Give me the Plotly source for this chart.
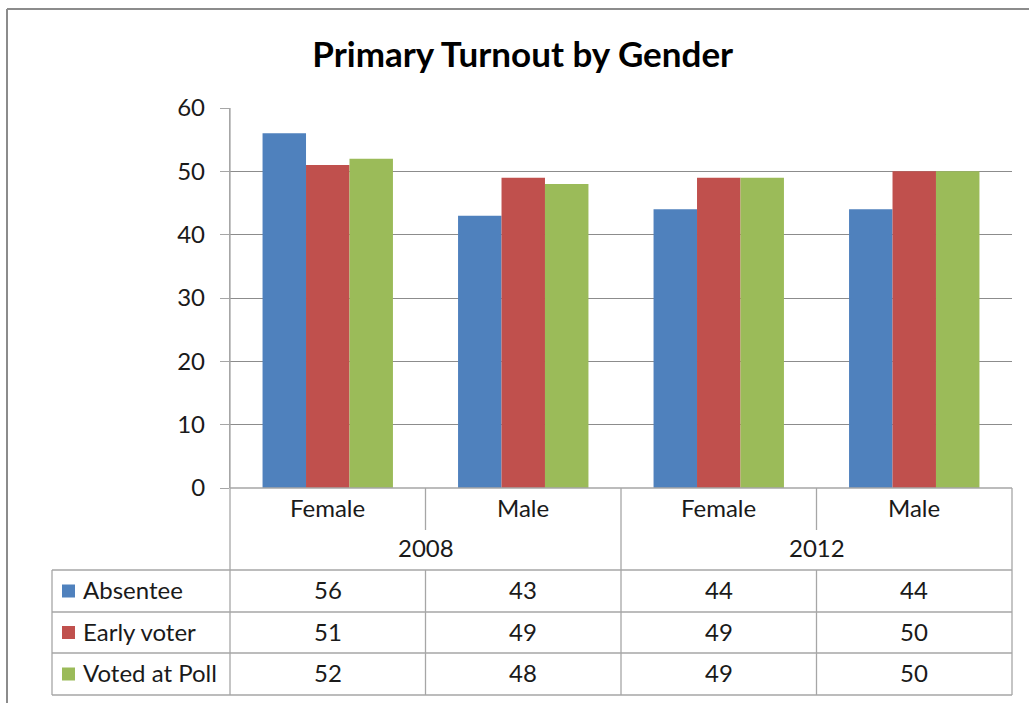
import plotly.graph_objects as go

# ---- data ----
years = ["2008", "2012"]
genders = ["Female", "Male", "Female", "Male"]
series_names = ["Absentee", "Early voter", "Voted at Poll"]
absentee = [56, 43, 44, 44]
early_voter = [51, 49, 49, 50]
voted_at_poll = [52, 48, 49, 50]
series_values = [absentee, early_voter, voted_at_poll]
colors = ["#4F81BD", "#C0504D", "#9BBB59"]

W, H = 1029, 703
L, R, T, B = 230, 1012, 108, 488  # plot area pixels
FONT = "Lato"
LINE = "#A6A6A6"


def px2x(px):
    return (px - L) / (R - L)


def px2y(py):
    return (B - py) / (B - T)


cats = list(range(len(genders)))

fig = go.Figure()
for name, vals, col in zip(series_names, series_values, colors):
    fig.add_trace(go.Bar(x=cats, y=vals, name=name, marker_color=col,
                         marker_line_width=0, showlegend=False))

shapes = []
annotations = []

# table row boundaries (pixels)
row1_bot = 530
rows = [570, 612, 653, 695]
left_tab = 52

# horizontal lines
for py in rows:
    shapes.append(dict(type="line", xref="paper", yref="paper",
                       x0=px2x(left_tab), x1=1, y0=px2y(py), y1=px2y(py),
                       line=dict(color=LINE, width=1.3)))
# bottom axis line
shapes.append(dict(type="line", xref="paper", yref="paper", x0=0, x1=1, y0=0, y1=0,
                   line=dict(color=LINE, width=1.3)))
# vertical lines: edges
for xv in [0, 1]:
    shapes.append(dict(type="line", xref="paper", yref="paper", x0=xv, x1=xv,
                       y0=0 if xv == 1 else 1, y1=px2y(rows[-1]),
                       line=dict(color=LINE, width=1.3)))
shapes.append(dict(type="line", xref="paper", yref="paper", x0=px2x(left_tab), x1=px2x(left_tab),
                   y0=px2y(rows[0]), y1=px2y(rows[-1]), line=dict(color=LINE, width=1.3)))
# category boundaries
for i in range(1, len(genders)):
    xb = i - 0.5
    if i % 2 == 0:
        shapes.append(dict(type="line", xref="x", yref="paper", x0=xb, x1=xb,
                           y0=0, y1=px2y(rows[-1]), line=dict(color=LINE, width=1.3)))
    else:
        shapes.append(dict(type="line", xref="x", yref="paper", x0=xb, x1=xb,
                           y0=0, y1=px2y(row1_bot), line=dict(color=LINE, width=1.3)))
        shapes.append(dict(type="line", xref="x", yref="paper", x0=xb, x1=xb,
                           y0=px2y(rows[0]), y1=px2y(rows[-1]), line=dict(color=LINE, width=1.3)))

# outer chart border
shapes.append(dict(type="line", xref="paper", yref="paper", x0=px2x(7), x1=px2x(1040),
                   y0=px2y(9), y1=px2y(9), line=dict(color="#8C8C8C", width=2)))
shapes.append(dict(type="line", xref="paper", yref="paper", x0=px2x(7), x1=px2x(7),
                   y0=px2y(9), y1=px2y(710), line=dict(color="#8C8C8C", width=2)))

tf = dict(family=FONT, size=24, color="#1A1A1A")
dy = -1.5  # small vertical text correction

# gender labels
for i, g in enumerate(genders):
    annotations.append(dict(x=i, y=px2y(509 + dy), xref="x", yref="paper", text=g,
                            showarrow=False, font=tf, xanchor="center", yanchor="middle"))
# year labels
for j, yr in enumerate(years):
    annotations.append(dict(x=2 * j + 0.5, y=px2y(549 + dy), xref="x", yref="paper", text=yr,
                            showarrow=False, font=tf, xanchor="center", yanchor="middle"))
# data rows
for r, (name, vals, col) in enumerate(zip(series_names, series_values, colors)):
    top, bot = rows[r], rows[r + 1]
    cy = (top + bot) / 2
    annotations.append(dict(x=px2x(81), y=px2y(cy + dy), xref="paper", yref="paper", text=name,
                            showarrow=False, font=tf, xanchor="left", yanchor="middle"))
    shapes.append(dict(type="rect", xref="paper", yref="paper",
                       x0=px2x(62), x1=px2x(75), y0=px2y(cy - 6.5), y1=px2y(cy + 6.5),
                       fillcolor=col, line=dict(width=0)))
    for i, v in enumerate(vals):
        annotations.append(dict(x=i, y=px2y(cy + dy), xref="x", yref="paper", text=str(v),
                                showarrow=False, font=tf, xanchor="center", yanchor="middle"))

fig.update_layout(
    width=W, height=H,
    margin=dict(l=L, r=W - R, t=T, b=H - B),
    paper_bgcolor="white", plot_bgcolor="white",
    barmode="group", bargap=0.333, bargroupgap=0,
    title=dict(text="<b>Primary Turnout by Gender</b>", x=0.508, xanchor="center",
               y=1 - 55 / H, yanchor="middle",
               font=dict(family=FONT, size=35, color="black")),
    xaxis=dict(range=[-0.5, len(genders) - 0.5], showticklabels=False, showgrid=False,
               zeroline=False, showline=False, ticks=""),
    yaxis=dict(range=[0, 60], dtick=10, showgrid=True, gridcolor="#8C8C8C", gridwidth=1.3,
               zeroline=False, showline=True, linecolor=LINE, linewidth=1.3,
               ticks="outside", ticklen=9, tickcolor=LINE, tickwidth=1.3,
               ticklabelstandoff=10,
               tickfont=dict(family=FONT, size=24, color="#1A1A1A")),
    shapes=shapes, annotations=annotations,
)

fig.write_html("out.html", config={"displayModeBar": False},
               post_script="document.body.style.margin='0';")
